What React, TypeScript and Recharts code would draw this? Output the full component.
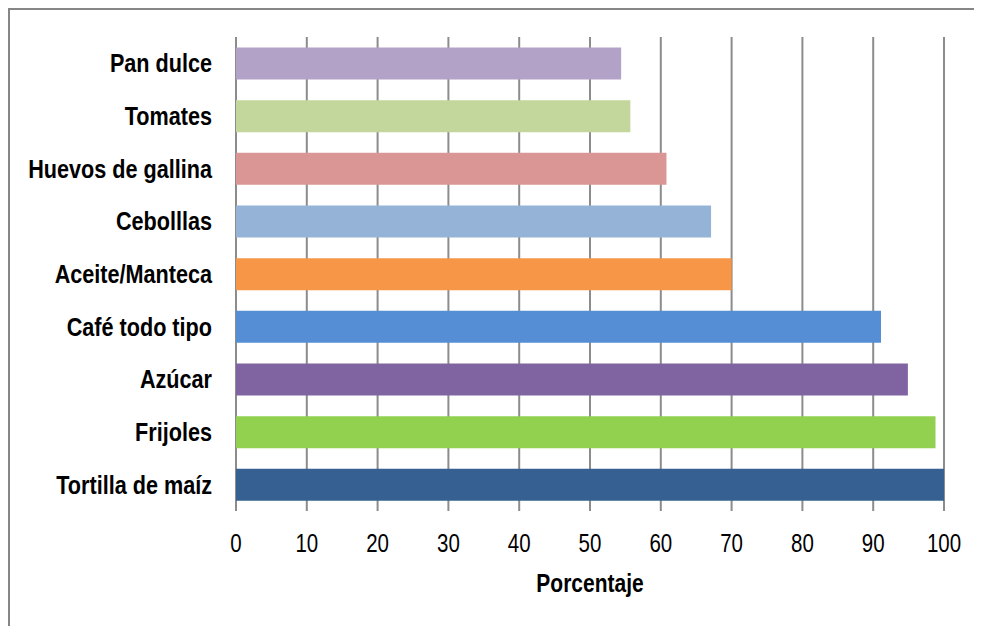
import React from 'react';
import { BarChart, Bar, XAxis, YAxis, CartesianGrid, Cell, Label } from 'recharts';

const categories = [
  'Pan dulce',
  'Tomates',
  'Huevos de gallina',
  'Cebolllas',
  'Aceite/Manteca',
  'Café todo tipo',
  'Azúcar',
  'Frijoles',
  'Tortilla de maíz',
];
const values = [54.4, 55.7, 60.8, 67.1, 70.0, 91.1, 94.9, 98.8, 100];
const colors = [
  '#b3a2c7',
  '#c3d69b',
  '#d99694',
  '#95b3d7',
  '#f79646',
  '#558ed5',
  '#8064a2',
  '#92d050',
  '#376092',
];
const xTicks = [0, 10, 20, 30, 40, 50, 60, 70, 80, 90, 100];
const xLabel = 'Porcentaje';

const data = categories.map((c, i) => ({ name: c, value: values[i] }));

const FONT = "'Liberation Sans', Arial, sans-serif";
const FS = 25;

const narrow = (x: number, y: number, s: number) =>
  `translate(${x} ${y}) scale(${s} 1) translate(${-x} ${-y})`;

const YTick = (props: any) => {
  const { x, y, payload } = props;
  return (
    <text
      x={x}
      y={y}
      dy="0.36em"
      textAnchor="end"
      fill="#000"
      fontSize={FS}
      fontWeight="bold"
      fontFamily={FONT}
      transform={narrow(x, y, 0.865)}
    >
      {payload.value}
    </text>
  );
};

const XTick = (props: any) => {
  const { x, y, payload } = props;
  return (
    <text
      x={x}
      y={y}
      dy="0.72em"
      textAnchor="middle"
      fill="#000"
      fontSize={FS}
      fontFamily={FONT}
      transform={narrow(x, y, 0.82)}
    >
      {payload.value}
    </text>
  );
};

const AxisTitle = (props: any) => {
  const vb = props.viewBox || {};
  const cx = vb.x + vb.width / 2;
  const y = vb.y + 81;
  return (
    <text
      x={cx}
      y={y}
      textAnchor="middle"
      fill="#000"
      fontSize={FS}
      fontWeight="bold"
      fontFamily={FONT}
      transform={narrow(cx, y, 0.84)}
    >
      {xLabel}
    </text>
  );
};

export default function App() {
  return (
    <div
      style={{
        width: 972,
        height: 616,
        borderTop: '2px solid #868686',
        borderLeft: '2px solid #868686',
        background: '#fff',
        fontFamily: FONT,
      }}
    >
      <BarChart
        width={972}
        height={616}
        data={data}
        layout="vertical"
        margin={{ top: 27, right: 38, left: 0, bottom: 0 }}
        barCategoryGap="20%"
      >
        <CartesianGrid horizontal={false} vertical={true} stroke="#8c8c8c" strokeWidth={2} />
        <XAxis
          type="number"
          domain={[0, 100]}
          ticks={xTicks}
          interval={0}
          height={115}
          axisLine={false}
          tickLine={false}
          tickSize={0}
          tickMargin={23}
          tick={<XTick />}
        >
          <Label content={<AxisTitle />} />
        </XAxis>
        <YAxis
          type="category"
          dataKey="name"
          width={226}
          axisLine={false}
          tickLine={false}
          tickSize={0}
          tickMargin={24}
          interval={0}
          tick={<YTick />}
        />
        <Bar dataKey="value" isAnimationActive={false}>
          {data.map((d, i) => (
            <Cell key={d.name} fill={colors[i]} />
          ))}
        </Bar>
      </BarChart>
    </div>
  );
}
